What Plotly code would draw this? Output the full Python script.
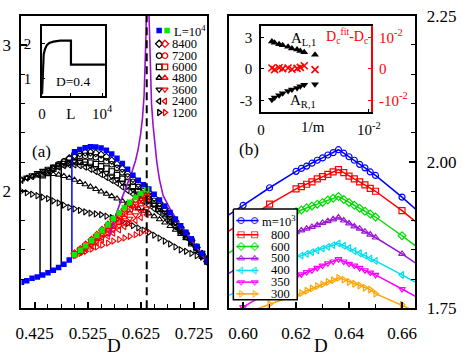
import plotly.graph_objects as go

FONT = "Liberation Serif, Times New Roman, serif"

# ---------------- Panel (a) data ----------------
D_grid = [0.40, 0.41, 0.42, 0.43, 0.44, 0.45, 0.46, 0.47, 0.48, 0.49,
          0.50, 0.51, 0.52, 0.53, 0.54, 0.55, 0.56, 0.57, 0.58, 0.59,
          0.60, 0.61, 0.62, 0.63, 0.64, 0.65, 0.66, 0.67, 0.68, 0.69,
          0.70, 0.71, 0.72, 0.73, 0.74, 0.75]

blue_low = [1.379, 1.389, 1.405, 1.415, 1.428, 1.444, 1.461, 1.480, 1.502, 1.530]
blue_up = [2.27, 2.285, 2.298, 2.305, 2.303, 2.295, 2.28, 2.255, 2.225, 2.19,
           2.15, 2.11, 2.075, 2.045, 2.015, 1.98, 1.94, 1.90, 1.855, 1.81,
           1.765, 1.72, 1.675, 1.625, 1.575, 1.525]
up_8400 = [2.20, 2.225, 2.245, 2.258, 2.265, 2.265, 2.26, 2.25, 2.235, 2.21,
           2.185, 2.155, 2.12, 2.085, 2.05, 2.02, 1.99, 1.955, 1.92, 1.88,
           1.84, 1.795, 1.75, 1.71, 1.665, 1.615, 1.57, 1.52]
up_7200 = [2.16, 2.185, 2.205, 2.22, 2.232, 2.24, 2.243, 2.24, 2.232, 2.22,
           2.205, 2.185, 2.16, 2.13, 2.10, 2.065, 2.03, 2.00, 1.97, 1.935,
           1.90, 1.865, 1.825, 1.785, 1.74, 1.70, 1.655, 1.61, 1.565, 1.52]
up_6000 = [2.11, 2.135, 2.155, 2.172, 2.185, 2.195, 2.20, 2.202, 2.20, 2.195,
           2.185, 2.17, 2.155, 2.135, 2.11, 2.085, 2.06, 2.03, 2.00, 1.975,
           1.945, 1.915, 1.88, 1.845, 1.81, 1.77, 1.73, 1.69, 1.645, 1.60,
           1.56, 1.52]
up_4800 = [2.08, 2.09, 2.10, 2.108, 2.113, 2.116, 2.117, 2.113, 2.104, 2.092,
           2.078, 2.063, 2.047, 2.031, 2.015, 1.998, 1.982, 1.966, 1.95, 1.934,
           1.918, 1.901, 1.884, 1.866, 1.848, 1.829, 1.808, 1.786, 1.762, 1.736,
           1.708, 1.678, 1.646, 1.612, 1.577, 1.54]
up_3600 = [2.08, 2.095, 2.11, 2.125, 2.14, 2.155, 2.17, 2.185, 2.195, 2.20,
           2.205, 2.20, 2.19, 2.175, 2.16, 2.145, 2.125, 2.10, 2.08, 2.06,
           2.035, 2.01, 1.985, 1.96, 1.935, 1.91, 1.885, 1.855, 1.82, 1.785,
           1.75, 1.71, 1.67, 1.625, 1.58, 1.535]
up_2400 = [2.075, 2.09, 2.10, 2.115, 2.13, 2.14, 2.155, 2.165, 2.175, 2.18,
           2.18, 2.175, 2.165, 2.15, 2.135, 2.115, 2.095, 2.075, 2.055, 2.03,
           2.005, 1.98, 1.955, 1.93, 1.905, 1.88, 1.855, 1.825, 1.79, 1.755,
           1.72, 1.685, 1.645, 1.605, 1.565, 1.53]
up_1200 = [2.00, 1.99, 1.98, 1.97, 1.96, 1.95, 1.935, 1.92, 1.905, 1.89,
           1.88, 1.87, 1.86, 1.85, 1.845, 1.84, 1.83, 1.82, 1.81, 1.795,
           1.78, 1.765, 1.75, 1.735, 1.72, 1.70, 1.68, 1.66, 1.64, 1.62,
           1.60, 1.59, 1.575, 1.56, 1.55, 1.54]

D_low = [0.500, 0.511, 0.521, 0.532, 0.542, 0.552, 0.563, 0.573, 0.584, 0.594,
         0.604, 0.615, 0.625, 0.636]
green_low = [1.567, 1.597, 1.628, 1.662, 1.697, 1.731, 1.772, 1.812, 1.852, 1.889, 1.925, 1.958, 1.985, 2.011]
low_8400 = [1.575, 1.605, 1.635, 1.668, 1.702, 1.736, 1.772, 1.808, 1.843, 1.878, 1.912, 1.944, 1.972, 2.000]
low_7200 = [1.572, 1.600, 1.630, 1.661, 1.694, 1.727, 1.761, 1.796, 1.830, 1.863, 1.896, 1.927, 1.956, 1.985]
low_6000 = [1.570, 1.596, 1.624, 1.653, 1.684, 1.715, 1.748, 1.781, 1.814, 1.846, 1.878, 1.908, 1.937, 1.965]
low_4800 = [1.567, 1.592, 1.618, 1.645, 1.673, 1.702, 1.732, 1.762, 1.792, 1.822, 1.852, 1.881, 1.910, 1.940]
low_3600 = [1.565, 1.588, 1.611, 1.635, 1.660, 1.685, 1.711, 1.737, 1.763, 1.788, 1.813, 1.837, 1.860, 1.882]
low_2400 = [1.563, 1.584, 1.605, 1.626, 1.648, 1.670, 1.692, 1.714, 1.736, 1.758, 1.779, 1.800, 1.820, 1.840]
low_1200 = [1.560, 1.575, 1.590, 1.605, 1.620, 1.632, 1.646, 1.660, 1.671, 1.681, 1.692, 1.703, 1.715, 1.730]

jump_D = [0.435, 0.455, 0.475, 0.495]
jump_lo = [1.42, 1.452, 1.49, 1.545]
jump_hi = [2.10, 2.15, 2.195, 2.265]

purple_D = [0.566, 0.578, 0.590, 0.600, 0.608, 0.615, 0.620, 0.6245, 0.628, 0.631,
            0.633, 0.6345, 0.6355, 0.6365, 0.6385, 0.640, 0.6415, 0.643, 0.645, 0.648,
            0.651, 0.655, 0.660, 0.667, 0.680, 0.695, 0.711, 0.727, 0.744, 0.75]
purple_y = [1.69, 1.84, 1.96, 2.05, 2.13, 2.21, 2.29, 2.39, 2.50, 2.65,
            2.82, 3.05, 3.25, 3.50, 3.50, 3.25, 3.00, 2.80, 2.60, 2.45,
            2.33, 2.20, 2.08, 1.97, 1.88, 1.79, 1.713, 1.63, 1.545, 1.52]
Dc = 0.636

# inset (a)
inset_pos = [0, 100, 270, 500, 800, 1200, 1900, 3000, 4800, 4800, 7000, 10450]
inset_val = [0.55, 1.30, 1.70, 1.85, 1.96, 2.02, 2.06, 2.09, 2.09, 1.40, 1.40, 1.40]

# ---------------- Panel (b) data ----------------
D_b = [0.59, 0.60, 0.61, 0.62, 0.622, 0.624, 0.626, 0.628, 0.630, 0.632, 0.634,
       0.636, 0.638, 0.640, 0.642, 0.644, 0.646, 0.648, 0.650, 0.66, 0.67]
m_labels = ["m=10<sup>3</sup>", "800", "600", "500", "400", "350", "300"]
b_1000 = [1.896, 1.926, 1.956, 1.984, 1.989, 1.993, 1.998, 2.003, 2.007, 2.012, 2.016,
          2.021, 2.015, 2.009, 2.003, 1.996, 1.990, 1.983, 1.977, 1.940, 1.900]
b_800 = [1.868, 1.898, 1.928, 1.954, 1.958, 1.962, 1.966, 1.971, 1.975, 1.979, 1.983,
         1.987, 1.982, 1.976, 1.971, 1.966, 1.961, 1.955, 1.950, 1.917, 1.880]
b_600 = [1.832, 1.860, 1.888, 1.915, 1.918, 1.922, 1.925, 1.928, 1.931, 1.935, 1.938,
         1.941, 1.936, 1.931, 1.926, 1.921, 1.916, 1.911, 1.906, 1.874, 1.840]
b_500 = [1.797, 1.825, 1.853, 1.880, 1.883, 1.886, 1.889, 1.892, 1.896, 1.899, 1.902,
         1.905, 1.900, 1.895, 1.890, 1.886, 1.881, 1.876, 1.871, 1.843, 1.812]
b_400 = [1.760, 1.786, 1.812, 1.837, 1.840, 1.843, 1.846, 1.849, 1.852, 1.855, 1.858,
         1.861, 1.857, 1.853, 1.848, 1.844, 1.840, 1.835, 1.831, 1.807, 1.782]
b_350 = [1.725, 1.752, 1.779, 1.804, 1.808, 1.812, 1.815, 1.819, 1.823, 1.827, 1.830,
         1.834, 1.830, 1.826, 1.823, 1.819, 1.815, 1.811, 1.807, 1.783, 1.758]
b_300 = [1.720, 1.740, 1.757, 1.772, 1.776, 1.780, 1.784, 1.788, 1.791, 1.795, 1.798,
         1.802, 1.799, 1.795, 1.792, 1.789, 1.785, 1.782, 1.775, 1.756, 1.735]
b_series = [b_1000, b_800, b_600, b_500, b_400, b_350, b_300]
b_colors = ["#0000ff", "#ff0000", "#00dd00", "#9a1ad6", "#00dff0", "#ff00ff", "#ffa500"]
b_symbols = ["circle-open", "square-open", "diamond-open", "triangle-up-open",
             "triangle-left-open", "triangle-down-open", "triangle-right-open"]

# inset (b)
m_inset = [1000, 800, 600, 500, 400, 350, 300, 275, 250, 200]
A_L1 = [2.61, 2.49, 2.34, 2.25, 2.10, 1.95, 1.86, 1.71, 1.59, 1.35]
A_R1 = [-2.92, -2.70, -2.49, -2.31, -2.10, -1.95, -1.80, -1.65, -1.50, -1.45]
dDc = [0.0003, -0.0002, 0.0004, 0.0001, 0.0003, -0.0001, 0.0002, 0.0005, 0.0010, -0.0002]

L_labels = ["L=10<sup>4</sup>", "8400", "7200", "6000", "4800", "3600", "2400", "1200"]
a_symbols = ["diamond-open", "circle-open", "square-open", "triangle-up-open",
             "triangle-down-open", "triangle-left-open", "triangle-right-open"]

fig = go.Figure()

def mk(sym, color, size=5.5, lw=1.1):
    return dict(symbol=sym, color=color, size=size, line=dict(color=color, width=lw))

ups = [(up_8400, D_grid[8:]), (up_7200, D_grid[6:]), (up_6000, D_grid[4:]),
       (up_4800, D_grid), (up_3600, D_grid), (up_2400, D_grid), (up_1200, D_grid)]
for (vals, xs), sym in reversed(list(zip(ups, a_symbols))):
    fig.add_trace(go.Scatter(x=xs, y=vals, mode="markers", marker=mk(sym, "black"),
                             xaxis="x", yaxis="y", showlegend=False))
for i in range(4):
    fig.add_trace(go.Scatter(x=[jump_D[i], jump_D[i]], y=[jump_lo[i], jump_hi[i]], mode="lines",
                             line=dict(color="blue" if i == 3 else "black", width=1.5),
                             xaxis="x", yaxis="y", showlegend=False))
lows = [low_8400, low_7200, low_6000, low_4800, low_3600, low_2400, low_1200]
for vals, sym in reversed(list(zip(lows, a_symbols))):
    fig.add_trace(go.Scatter(x=D_low, y=vals, mode="markers", marker=mk(sym, "red"),
                             xaxis="x", yaxis="y", showlegend=False))
fig.add_trace(go.Scatter(x=purple_D, y=purple_y, mode="lines", line=dict(color="#9a10d0", width=1.6),
                         xaxis="x", yaxis="y", showlegend=False))
fig.add_trace(go.Scatter(x=D_grid[:10], y=blue_low, mode="markers", marker=mk("square", "#0000ff", 5.5, 0),
                         xaxis="x", yaxis="y", showlegend=False))
fig.add_trace(go.Scatter(x=D_grid[10:], y=blue_up, mode="markers", marker=mk("square", "#0000ff", 5.5, 0),
                         xaxis="x", yaxis="y", showlegend=False))
fig.add_trace(go.Scatter(x=D_low, y=green_low, mode="markers", marker=mk("square", "#00ee00", 5.5, 0),
                         xaxis="x", yaxis="y", showlegend=False))

fig.add_trace(go.Scatter(x=inset_pos, y=inset_val, mode="lines", line=dict(color="black", width=2.2),
                         xaxis="x3", yaxis="y3", showlegend=False))

for vals, col, sym in zip(b_series, b_colors, b_symbols):
    fig.add_trace(go.Scatter(x=D_b, y=vals, mode="lines+markers", line=dict(color=col, width=1.5),
                             marker=mk(sym, col, 6, 1.2), xaxis="x2", yaxis="y2", showlegend=False))

inv_m = [1.0 / m for m in m_inset]
fig.add_trace(go.Scatter(x=inv_m, y=A_L1, mode="markers", marker=dict(symbol="triangle-up", color="black", size=7),
                         xaxis="x4", yaxis="y4", showlegend=False))
fig.add_trace(go.Scatter(x=inv_m, y=A_R1, mode="markers", marker=dict(symbol="triangle-down", color="black", size=7),
                         xaxis="x4", yaxis="y4", showlegend=False))
fig.add_trace(go.Scatter(x=inv_m, y=dDc, mode="markers",
                         marker=dict(symbol="x-thin", color="red", size=7, line=dict(color="red", width=1.6)),
                         xaxis="x4", yaxis="y5", showlegend=False))

# ---------- legend keys on pixel overlay axis ----------
leg_a_y = [22.7, 36.7, 49.3, 61, 72.7, 85, 97.3, 109.3]
fig.add_trace(go.Scatter(x=[159.3, 167.5], y=[leg_a_y[0]] * 2, mode="markers",
                         marker=dict(symbol="square", size=5.5, color=["#0000ff", "#00ee00"]),
                         xaxis="x6", yaxis="y6", showlegend=False))
for i, sym in enumerate(a_symbols):
    yy = leg_a_y[i + 1]
    fig.add_trace(go.Scatter(x=[159.3], y=[yy], mode="markers", marker=mk(sym, "black", 5.5, 1.3),
                             xaxis="x6", yaxis="y6", showlegend=False))
    fig.add_trace(go.Scatter(x=[165.3], y=[yy], mode="markers", marker=mk(sym, "red", 5.5, 1.3),
                             xaxis="x6", yaxis="y6", showlegend=False))

fig.add_trace(go.Scatter(x=[236, 302, 302, 236, 236], y=[211, 211, 307, 307, 211], mode="lines",
                         fill="toself", fillcolor="white", line=dict(color="black", width=1.5),
                         xaxis="x6", yaxis="y6", showlegend=False))
leg_b_y = [223.3, 238.3, 250.7, 263.3, 276, 288.3, 300.7]
for i in range(7):
    fig.add_trace(go.Scatter(x=[239, 244, 258, 262], y=[leg_b_y[i]] * 4, mode="lines+markers",
                             line=dict(color=b_colors[i], width=1.5),
                             marker=dict(symbol=b_symbols[i], color=b_colors[i], size=[0, 6, 6, 0],
                                         line=dict(color=b_colors[i], width=1.2)),
                             xaxis="x6", yaxis="y6", showlegend=False))

ann = []
def txt(x, y, s, size, color="black", xanchor="center"):
    ann.append(dict(x=x, y=y, xref="x6", yref="y6", text=s, showarrow=False, xanchor=xanchor,
                    yanchor="middle", font=dict(family=FONT, size=size, color=color)))

txt(38, 150, "(a)", 17)
txt(252, 148, "(b)", 17)
txt(113, 355, "D", 19)
txt(327, 355, "D", 19)
txt(70, 76, "D=0.4", 13.5)
txt(172.5, leg_a_y[0], L_labels[0], 12.5, xanchor="left")
for i in range(1, 8):
    txt(170.3, leg_a_y[i], L_labels[i], 12.5, xanchor="left")
txt(264, leg_b_y[0], m_labels[0], 12.5, xanchor="left")
for i in range(1, 7):
    txt(273, leg_b_y[i], m_labels[i], 12.5, xanchor="left")
txt(308, 32, "A<sub>L,1</sub>", 15)
txt(308, 97, "A<sub>R,1</sub>", 15)
txt(378, 29, "D<sub>c</sub><sup>fit</sup>-D<sub>c</sub>", 14, color="red", xanchor="right")
txt(318, 125, "1/m", 15)

def px_x(a, b):
    return [a / 463, b / 463]

def px_y(top, bottom):
    return [(361 - bottom) / 361, (361 - top) / 361]

def tf(size, color="black"):
    return dict(family=FONT, size=size, color=color)

def axis(**kw):
    d = dict(showgrid=False, zeroline=False, showline=True, linecolor="black",
             ticks="inside", tickcolor="black", ticklabeloverflow="allow")
    d.update(kw)
    return d

def minor(dt, t0, ln=4):
    return dict(ticks="inside", ticklen=ln, tickcolor="black", tickwidth=1.2, dtick=dt, tick0=t0)

fig.update_layout(
    width=463, height=361, margin=dict(l=0, r=0, t=0, b=0),
    paper_bgcolor="white", plot_bgcolor="rgba(0,0,0,0)",
    font=dict(family=FONT, color="black"),
    xaxis=axis(domain=px_x(17, 209), range=[0.40, 0.75], anchor="y", mirror=True, linewidth=2,
               tickmode="linear", tick0=0.425, dtick=0.1, tickformat=".3f", ticklen=6, tickwidth=1.5,
               tickfont=tf(17), ticklabelstandoff=8, minor=minor(0.025, 0.4)),
    yaxis=axis(domain=px_y(7, 316), range=[1.2, 3.2], anchor="x", mirror=True, linewidth=2,
               tickmode="linear", tick0=0, dtick=1, ticklen=6, tickwidth=1.5, tickfont=tf(17),
               ticklabelstandoff=5, minor=minor(0.2, 0)),
    xaxis2=axis(domain=px_x(231, 424), range=[0.5945, 0.665], anchor="y2", mirror=True, linewidth=2,
                tickmode="linear", tick0=0.60, dtick=0.02, tickformat=".2f",
                ticklen=6, tickwidth=1.5, tickfont=tf(17), ticklabelstandoff=8, minor=minor(0.01, 0.6)),
    yaxis2=axis(domain=px_y(7, 316), range=[1.7499, 2.2501], anchor="x2", side="right", mirror=True,
                linewidth=2, tickmode="array", tickvals=[1.75, 2.0, 2.25], ticktext=["1.75", "2.00", "2.25"],
                ticklen=6, tickwidth=1.5, tickfont=tf(17), ticklabelstandoff=6, minor=minor(0.05, 1.75)),
    xaxis3=axis(domain=px_x(38.3, 103.3), range=[0, 10450], anchor="y3", mirror=True, linewidth=1.5,
                tickmode="array", tickvals=[0, 4800, 10000], ticktext=["0", "L", "10<sup>4</sup>"],
                ticklen=3, tickfont=tf(15), ticklabelstandoff=3),
    yaxis3=axis(domain=px_y(18.3, 91.7), range=[0.5, 2.5], anchor="x3", mirror=True, linewidth=1.5,
                tickmode="array", tickvals=[1, 2], ticktext=["1", "2"], ticklen=3, tickfont=tf(15),
                ticklabelstandoff=6),
    xaxis4=axis(domain=px_x(264.7, 378.3), range=[0, 0.0102], anchor="y4", mirror=True, linewidth=1.5,
                tickmode="array", tickvals=[0, 0.01], ticktext=["0", "10<sup>-2</sup>"], ticklen=3,
                tickfont=tf(15), ticklabelstandoff=4),
    yaxis4=axis(domain=px_y(18.3, 108.3), range=[-4.05, 4.05], anchor="x4", linewidth=1.5,
                tickmode="array", tickvals=[-3, 0, 3], ticktext=["-3", "0", "3"], ticklen=3,
                tickfont=tf(15), ticklabelstandoff=4),
    yaxis5=axis(overlaying="y4", anchor="x4", side="right", range=[-0.0135, 0.0135], linewidth=1.8,
                linecolor="red", tickcolor="red", tickmode="array", tickvals=[-0.01, 0, 0.01],
                ticktext=["-10<sup>-2</sup>", "0", "10<sup>-2</sup>"], ticklen=3,
                tickfont=tf(15, "red"), ticklabelstandoff=3),
    xaxis6=dict(domain=[0, 1], range=[0, 463], visible=False, anchor="y6", fixedrange=True),
    yaxis6=dict(domain=[0, 1], range=[361, 0], visible=False, anchor="x6", fixedrange=True),
    annotations=ann,
    shapes=[dict(type="line", xref="x", yref="y domain", x0=Dc, x1=Dc, y0=0, y1=1,
                 line=dict(color="black", width=2, dash="8px,5px"), layer="above")],
)

fig.write_html("out.html", post_script="document.body.style.margin='0';",
               config={"displayModeBar": False})
